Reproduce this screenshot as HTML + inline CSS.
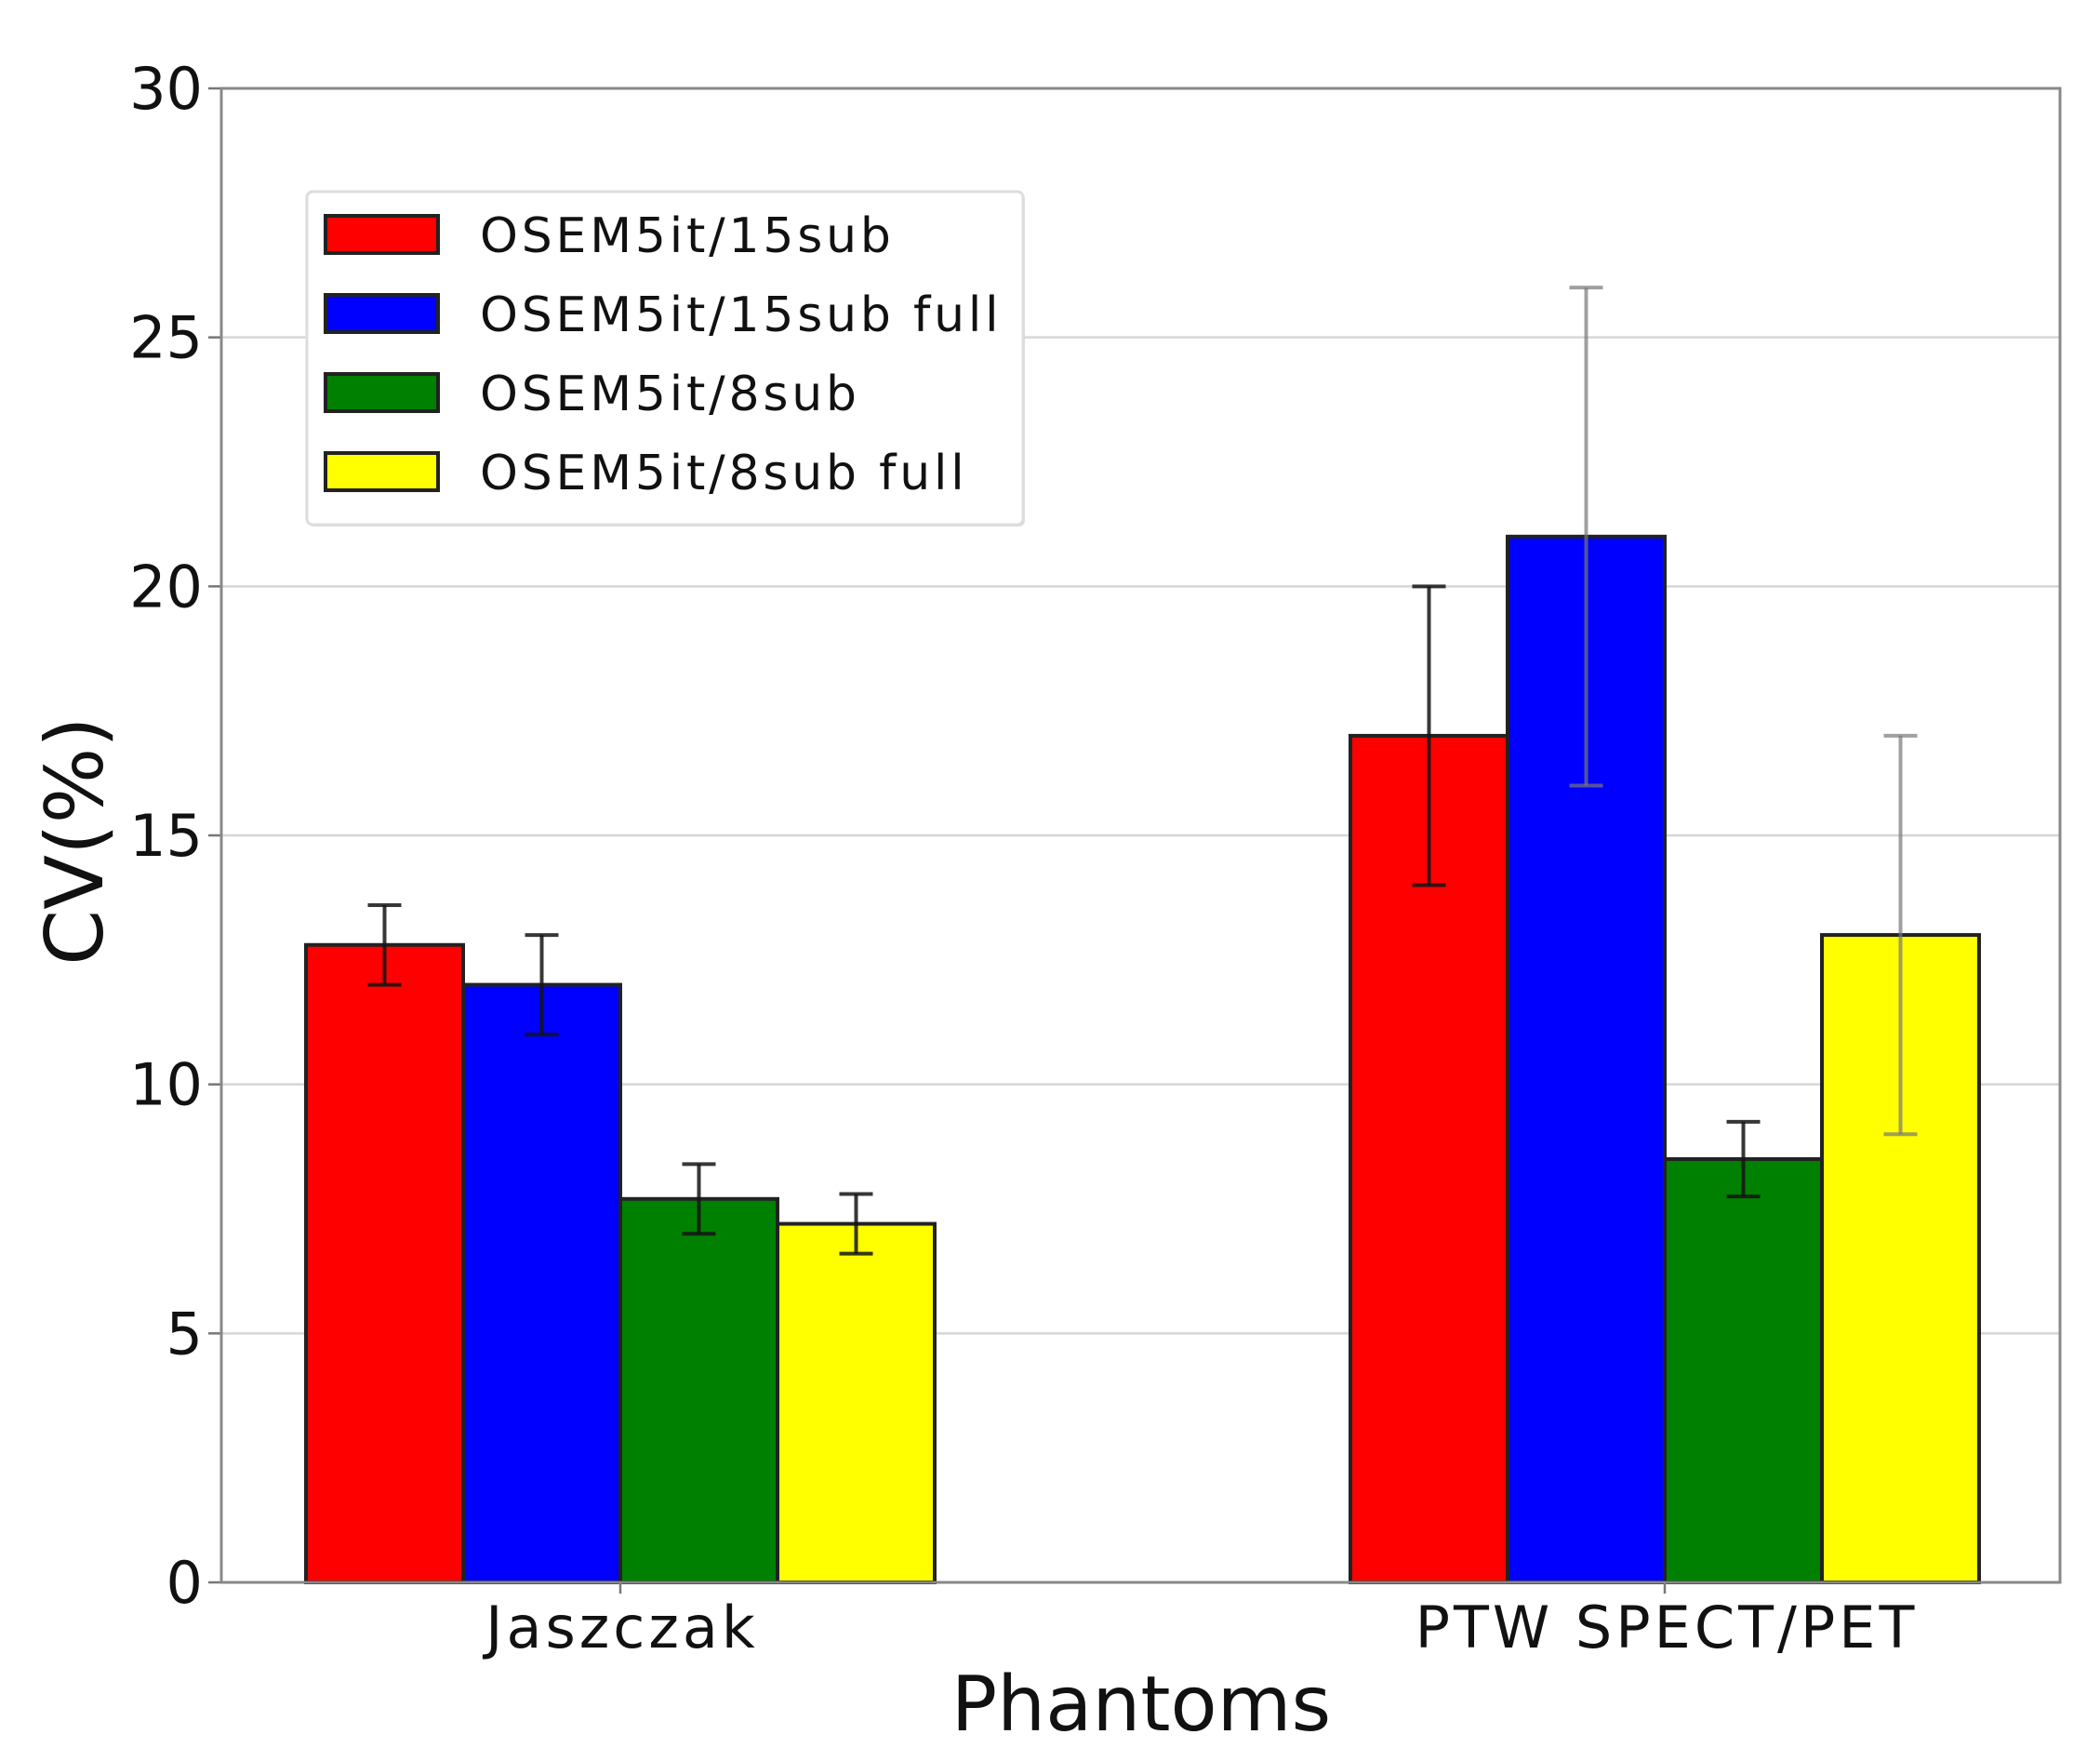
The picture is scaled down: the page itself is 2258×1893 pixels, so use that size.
<!DOCTYPE html>
<html><head><meta charset="utf-8"><style>
html,body{margin:0;padding:0;background:#fff;}
svg{display:block;font-family:"DejaVu Sans","Liberation Sans",sans-serif;}
</style></head><body>
<svg id="chart" width="2258" height="1893" viewBox="0 0 2258 1893" xmlns="http://www.w3.org/2000/svg"></svg>
<script>
const categories = ["Jaszczak", "PTW SPECT/PET"];
const seriesNames = ["OSEM5it/15sub", "OSEM5it/15sub full", "OSEM5it/8sub", "OSEM5it/8sub full"];
const valuesRed = [12.8, 17];
const valuesBlue = [12, 21];
const valuesGreen = [7.7, 8.5];
const valuesYellow = [7.2, 13];
const errRed = [0.8, 3];
const errBlue = [1, 5];
const errGreen = [0.7, 0.75];
const errYellow = [0.6, 4];
const yTicks = [0, 5, 10, 15, 20, 25, 30];

const svg = document.getElementById('chart');
const NS = 'http://www.w3.org/2000/svg';
const L = 238, R = 2215, T = 95, B = 1701;
const yMax = 30;
const y = v => B - v / yMax * (B - T);
const centers = [667, 1790];
const x = i => centers[i];
const bw = 169;
const colors = ["#ff0000", "#0000ff", "#008000", "#ffff00"];
const vals = [valuesRed, valuesBlue, valuesGreen, valuesYellow];
const errs = [errRed, errBlue, errGreen, errYellow];
function mk(tag, attrs, parent) {
  const e = document.createElementNS(NS, tag);
  for (const k in attrs) e.setAttribute(k, attrs[k]);
  (parent || svg).appendChild(e);
  return e;
}
yTicks.forEach(t => {
  const g = mk('line', {x1: L, x2: R, y1: y(t), y2: y(t), stroke: '#d6d6d6', 'stroke-width': 2.5});
  
  
  mk('line', {x1: L - 14, x2: L, y1: y(t), y2: y(t), stroke: '#777', 'stroke-width': 2.5});
  const tx = mk('text', {x: L - 20, y: y(t) + 22, 'text-anchor': 'end', 'font-size': 62, fill: '#111'});
  tx.textContent = t;
  
  
});
categories.forEach((c, i) => {
  vals.forEach((s, k) => {
    const left = x(i) - 2 * bw + k * bw;
    const r = mk('rect', {x: left, y: y(s[i]), width: bw, height: B - y(s[i]), fill: colors[k], stroke: '#222', 'stroke-width': 4});
    
    
  });
  vals.forEach((s, k) => {
    const cx = x(i) - 2 * bw + k * bw + bw / 2;
    const lo = y(s[i] - errs[k][i]), hi = y(s[i] + errs[k][i]);
    const col = (i === 1 && (k === 1 || k === 3)) ? 'rgba(120,120,120,0.7)' : 'rgba(20,20,20,0.85)';
    const g = mk('g', {stroke: col, 'stroke-width': 4});
    
    
    mk('line', {x1: cx, x2: cx, y1: lo, y2: hi}, g);
    mk('line', {x1: cx - 18, x2: cx + 18, y1: lo, y2: lo}, g);
    mk('line', {x1: cx - 18, x2: cx + 18, y1: hi, y2: hi}, g);
  });
  mk('line', {x1: x(i), x2: x(i), y1: B, y2: B + 12, stroke: '#777', 'stroke-width': 2.5});
  const lt = mk('text', {x: x(i) + 2, y: 1771, 'text-anchor': 'middle', 'font-size': 62, 'letter-spacing': 4, fill: '#111'});
  lt.textContent = c;
  
  
});
const fr = mk('rect', {x: L, y: T, width: R - L, height: B - T, fill: 'none', stroke: '#888', 'stroke-width': 3});


const xt = mk('text', {x: 1227, y: 1860, 'text-anchor': 'middle', 'font-size': 82, fill: '#111'});
xt.textContent = 'Phantoms';


const yt = mk('text', {x: 0, y: 0, 'text-anchor': 'middle', 'font-size': 86, fill: '#111', transform: 'translate(110,904) rotate(-90)'});
yt.textContent = 'CV(%)';


const lg = mk('g', {});


mk('rect', {x: 332, y: 208, width: 770, height: 358, rx: 6, fill: '#ccc', opacity: 0.6}, lg);
mk('rect', {x: 330, y: 206, width: 770, height: 358, rx: 6, fill: '#fff', stroke: '#ddd', 'stroke-width': 3}, lg);
seriesNames.forEach((n, k) => {
  const cy = 252 + k * 85;
  const e = mk('g', {}, lg);
  
  
  mk('rect', {x: 350, y: cy - 20, width: 121, height: 40, fill: colors[k], stroke: '#222', 'stroke-width': 4}, e);
  const t = mk('text', {x: 516, y: cy + 19, 'font-size': 52, 'letter-spacing': 3.8, fill: '#111'}, e);
  t.textContent = n;
});
</script>
</body></html>
